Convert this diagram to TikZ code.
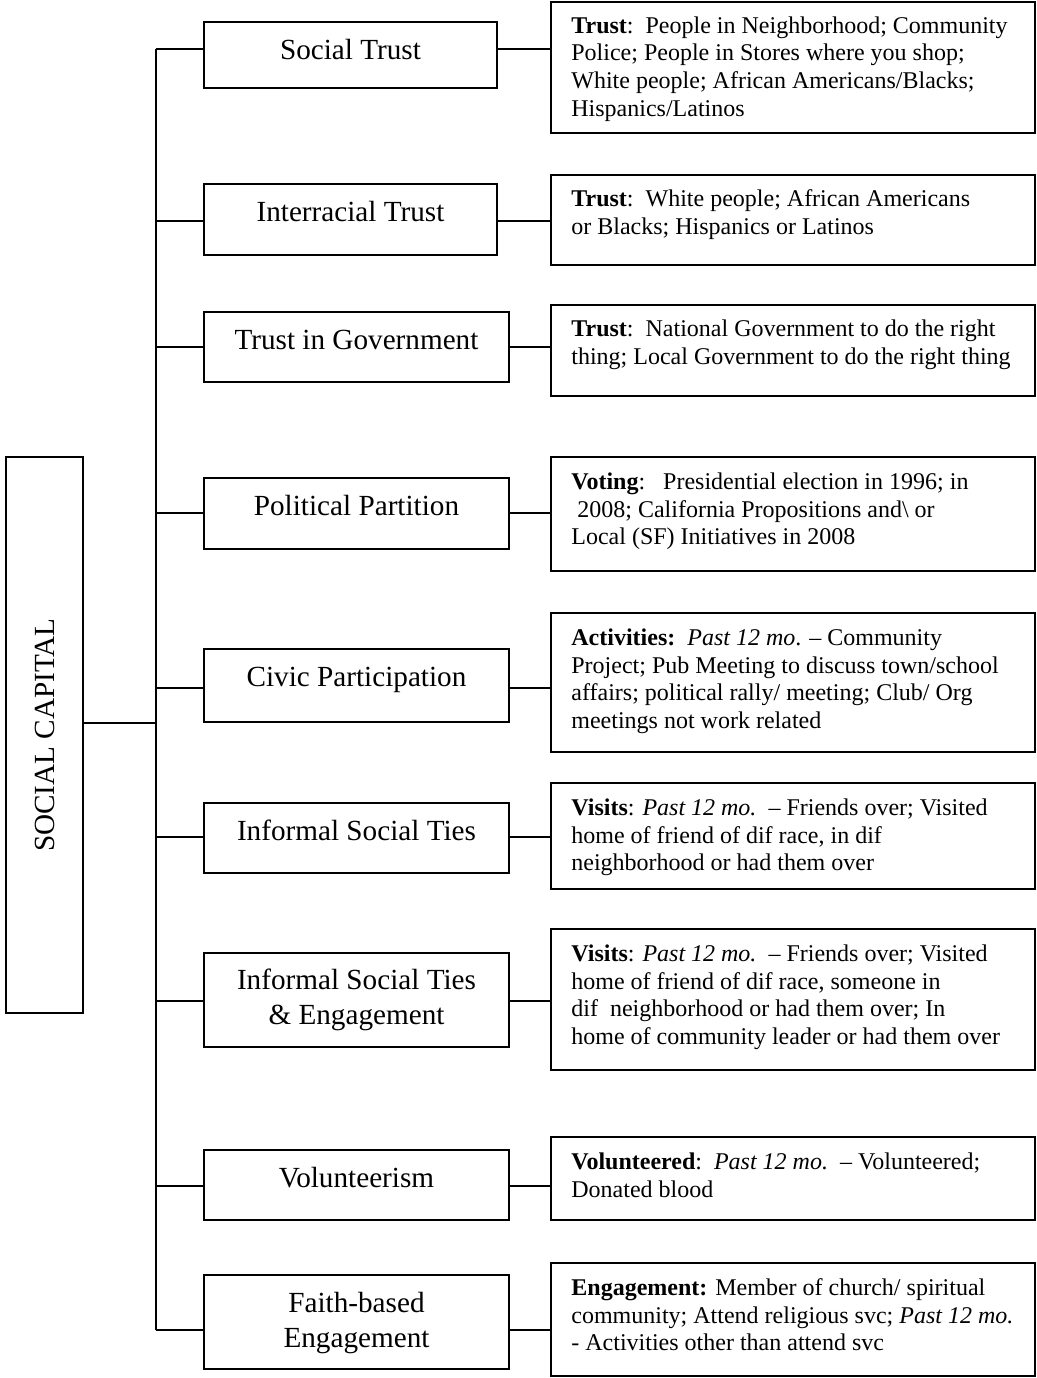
\documentclass[tikz,border=0pt]{standalone}
\usepackage{fontspec}
\setmainfont{Liberation Serif}
\usetikzlibrary{fit,calc}
\begin{document}
\begin{tikzpicture}[x=0.5pt,y=-0.5pt,
  frame/.style={draw, line width=1pt, inner sep=0pt},
  link/.style={line width=0.85pt},
  midtext/.style={anchor=north, inner sep=0pt, align=center,
    font=\fontsize{14.6}{17.5}\selectfont},
  desc/.style={anchor=north west, inner sep=0pt, align=left,
    font=\fontsize{12}{13.8}\selectfont}]
\useasboundingbox (0,0) rectangle (1037,1378);

% root box
\node[frame, fit={(6,457) (83,1013)}] (sc) {};
\node[rotate=90, inner sep=0pt, font=\fontsize{14.6}{17.5}\selectfont] (sctext) at (sc.center) {SOCIAL CAPITAL};

% middle column
\node[frame, fit={(204,22) (497,88)}]    (m1) {};
\node[frame, fit={(204,184) (497,255)}]  (m2) {};
\node[frame, fit={(204,312) (509,382)}]  (m3) {};
\node[frame, fit={(204,478) (509,549)}]  (m4) {};
\node[frame, fit={(204,649) (509,722)}]  (m5) {};
\node[frame, fit={(204,803) (509,873)}]  (m6) {};
\node[frame, fit={(204,953) (509,1047)}] (m7) {};
\node[frame, fit={(204,1150) (509,1220)}] (m8) {};
\node[frame, fit={(204,1275) (509,1369)}] (m9) {};

\node[midtext] (m1t) at ($(m1.north)+(0,14)$) {\strut Social Trust};
\node[midtext] (m2t) at ($(m2.north)+(0,14)$) {\strut Interracial Trust};
\node[midtext] (m3t) at ($(m3.north)+(0,14)$) {\strut Trust in Government};
\node[midtext] (m4t) at ($(m4.north)+(0,14)$) {\strut Political Partition};
\node[midtext] (m5t) at ($(m5.north)+(0,14)$) {\strut Civic Participation};
\node[midtext] (m6t) at ($(m6.north)+(0,14)$) {\strut Informal Social Ties};
\node[midtext] (m7t) at ($(m7.north)+(0,13)$) {\strut Informal Social Ties\\\& Engagement};
\node[midtext] (m8t) at ($(m8.north)+(0,14)$) {\strut Volunteerism};
\node[midtext] (m9t) at ($(m9.north)+(0,14)$) {\strut Faith-based\\Engagement};

% right column
\node[frame, fit={(551,2) (1035,133)}]    (r1) {};
\node[frame, fit={(551,175) (1035,265)}]  (r2) {};
\node[frame, fit={(551,305) (1035,396)}]  (r3) {};
\node[frame, fit={(551,457) (1035,571)}]  (r4) {};
\node[frame, fit={(551,613) (1035,752)}]  (r5) {};
\node[frame, fit={(551,783) (1035,889)}]  (r6) {};
\node[frame, fit={(551,929) (1035,1070)}] (r7) {};
\node[frame, fit={(551,1137) (1035,1220)}] (r8) {};
\node[frame, fit={(551,1263) (1035,1376)}] (r9) {};

\node[desc] (r1t) at ($(r1.north west)+(21,12.5)$) {\strut\textbf{Trust}:~~People in Neighborhood; Community\\Police; People in Stores where you shop;\\White people; African Americans/Blacks;\\Hispanics/Latinos};
\node[desc] (r2t) at ($(r2.north west)+(21,13)$) {\strut\textbf{Trust}:~~White people; African Americans\\or Blacks; Hispanics or Latinos};
\node[desc] (r3t) at ($(r3.north west)+(21,13)$) {\strut\textbf{Trust}:~~National Government to do the right\\thing; Local Government to do the right thing};
\node[desc] (r4t) at ($(r4.north west)+(21,13.7)$) {\strut\textbf{Voting}:~~~Presidential election in 1996; in\\\hspace{0.25em}2008; California Propositions and\textbackslash{} or\\Local (SF) Initiatives in 2008};
\node[desc] (r5t) at ($(r5.north west)+(21,14)$) {\strut\textbf{Activities:}~~\textit{Past 12 mo}. -- Community\\Project; Pub Meeting to discuss town/school\\affairs; political rally/ meeting; Club/ Org\\meetings not work related};
\node[desc] (r6t) at ($(r6.north west)+(21,13.7)$) {\strut\textbf{Visits}: \textit{Past 12 mo.}~~-- Friends over; Visited\\home of friend of dif race, in dif\\neighborhood or had them over};
\node[desc] (r7t) at ($(r7.north west)+(21,13.7)$) {\strut\textbf{Visits}: \textit{Past 12 mo.}~~-- Friends over; Visited\\home of friend of dif race, someone in\\dif~~neighborhood or had them over; In\\home of community leader or had them over};
\node[desc] (r8t) at ($(r8.north west)+(21,13.7)$) {\strut\textbf{Volunteered}:~~\textit{Past 12 mo.}~~-- Volunteered;\\Donated blood};
\node[desc] (r9t) at ($(r9.north west)+(21,13.7)$) {\strut\textbf{Engagement:} Member of church/ spiritual\\community; Attend religious svc; \textit{Past 12 mo.}\\- Activities other than attend svc};

% spine and branch points
\coordinate (b1) at (156,49);
\coordinate (b2) at (156,221);
\coordinate (b3) at (156,347);
\coordinate (b4) at (156,513);
\coordinate (b5) at (156,688);
\coordinate (b6) at (156,837);
\coordinate (b7) at (156,1001);
\coordinate (b8) at (156,1186);
\coordinate (b9) at (156,1330);
\coordinate (sj) at (156,723);

\draw[link] (b1) -- (b9);
\draw[link] (sc.east |- sj) -- (sj);

\foreach \i in {1,...,9}{
  \draw[link] (b\i) -- (m\i.west |- b\i);
  \draw[link] (m\i.east |- b\i) -- (r\i.west |- b\i);
}
\end{tikzpicture}
\end{document}
